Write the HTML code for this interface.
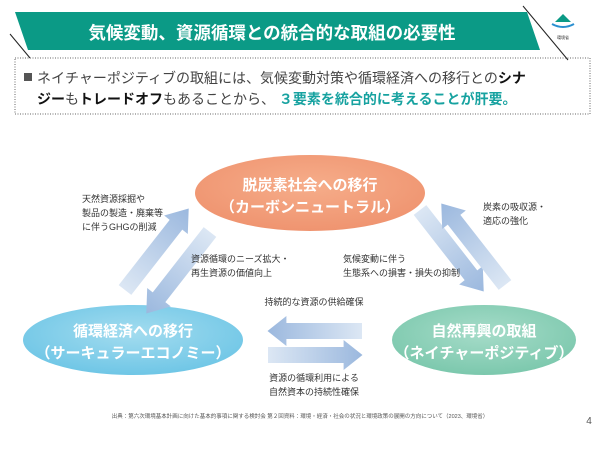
<!DOCTYPE html>
<html><head><meta charset="utf-8"><style>
body{margin:0;width:600px;height:448px;background:#fff;overflow:hidden;font-family:"Liberation Sans","Noto Sans CJK JP",sans-serif}
</style></head><body>
<svg width="600" height="448" viewBox="0 0 600 448" xmlns="http://www.w3.org/2000/svg" font-family="Liberation Sans, Noto Sans CJK JP, sans-serif">
<defs>
<linearGradient id="ar" x1="0" y1="0" x2="1" y2="0"><stop offset="0" stop-color="#dce7f4"/><stop offset="1" stop-color="#9bb8de"/></linearGradient>
<radialGradient id="go" cx="0.5" cy="0.4" r="0.6"><stop offset="0" stop-color="#f6ad8a"/><stop offset="1" stop-color="#ef9470"/></radialGradient>
<radialGradient id="gb" cx="0.5" cy="0.4" r="0.6"><stop offset="0" stop-color="#a3dcef"/><stop offset="1" stop-color="#6fc6e6"/></radialGradient>
<radialGradient id="gg" cx="0.5" cy="0.4" r="0.6"><stop offset="0" stop-color="#a6dcc9"/><stop offset="1" stop-color="#7cc8ad"/></radialGradient>
<g id="arrow"><polygon points="0,-8 72,-8 72,-15 90,0 72,15 72,8 0,8" fill="url(#ar)"/></g>
</defs>
<polygon points="15,12 527,12 540,50 28,50" fill="#0b9a86"/>
<line x1="10" y1="34" x2="30" y2="58" stroke="#222" stroke-width="1"/>
<line x1="523" y1="6" x2="568" y2="60" stroke="#222" stroke-width="1"/>
<text x="272" y="39" font-size="17.5" font-weight="bold" fill="#fff" text-anchor="middle">気候変動、資源循環との統合的な取組の必要性</text>
<polygon points="555,22 563,14 571,22" fill="#0b9a86"/>
<path d="M552,24 Q563,30 574,24" stroke="#2a8fd0" stroke-width="2" fill="none"/>
<text x="563" y="39" font-size="4" text-anchor="middle" fill="#333">環境省</text>
<rect x="15" y="58" width="575" height="56" fill="none" stroke="#666" stroke-width="1" stroke-dasharray="1,1.5"/>
<rect x="24" y="73" width="8" height="8" fill="#555"/>
<text x="37" y="83" font-size="14" fill="#444">ネイチャーポジティブの取組には、気候変動対策や循環経済への移行との<tspan font-weight="bold" fill="#111">シナ</tspan></text>
<text x="37" y="104" font-size="14" fill="#444"><tspan font-weight="bold" fill="#111">ジー</tspan>も<tspan font-weight="bold" fill="#111">トレードオフ</tspan>もあることから、 <tspan font-weight="bold" fill="#17a2a0">３要素を統合的に考えることが肝要。</tspan></text>
<ellipse cx="310" cy="193" rx="115" ry="38" fill="url(#go)"/>
<text x="310" y="190" font-size="15" font-weight="bold" fill="#fff" text-anchor="middle">脱炭素社会への移行</text>
<text x="310" y="212" font-size="15" font-weight="bold" fill="#fff" text-anchor="middle">（カーボンニュートラル）</text>
<ellipse cx="133" cy="340" rx="110" ry="35" fill="url(#gb)"/>
<text x="133" y="336" font-size="15" font-weight="bold" fill="#fff" text-anchor="middle">循環経済への移行</text>
<text x="133" y="358" font-size="15" font-weight="bold" fill="#fff" text-anchor="middle">（サーキュラーエコノミー）</text>
<ellipse cx="484" cy="340" rx="92" ry="35" fill="url(#gg)"/>
<text x="484" y="336" font-size="15" font-weight="bold" fill="#fff" text-anchor="middle">自然再興の取組</text>
<text x="484" y="358" font-size="15" font-weight="bold" fill="#fff" text-anchor="middle">（ネイチャーポジティブ）</text>
<use href="#arrow" transform="translate(125,290) rotate(-52) scale(1.15,1)"/>
<use href="#arrow" transform="translate(210,232) rotate(128) scale(1.15,1)"/>
<use href="#arrow" transform="translate(420,210) rotate(52) scale(1.15,1)"/>
<use href="#arrow" transform="translate(505,285) rotate(-128) scale(1.15,1)"/>
<use href="#arrow" transform="translate(362,331) rotate(180) scale(1.05,1)"/>
<use href="#arrow" transform="translate(268,355) scale(1.05,1)"/>
<g font-size="9" fill="#333">
<text x="82" y="202">天然資源採掘や</text>
<text x="82" y="216">製品の製造・廃棄等</text>
<text x="82" y="230">に伴うGHGの削減</text>
<text x="191" y="262">資源循環のニーズ拡大・</text>
<text x="191" y="276">再生資源の価値向上</text>
<text x="343" y="262">気候変動に伴う</text>
<text x="343" y="276">生態系への損害・損失の抑制</text>
<text x="483" y="210">炭素の吸収源・</text>
<text x="483" y="224">適応の強化</text>
<text x="314" y="305" text-anchor="middle">持続的な資源の供給確保</text>
<text x="314" y="381" text-anchor="middle">資源の循環利用による</text>
<text x="314" y="395" text-anchor="middle">自然資本の持続性確保</text>
</g>
<text x="300" y="418" font-size="5.5" fill="#555" text-anchor="middle">出典：第六次環境基本計画に向けた基本的事項に関する検討会 第２回資料：環境・経済・社会の状況と環境政策の展開の方向について（2023、環境省）</text>
<text x="589" y="424" font-size="10" fill="#555" text-anchor="middle">4</text>
</svg>
</body></html>
